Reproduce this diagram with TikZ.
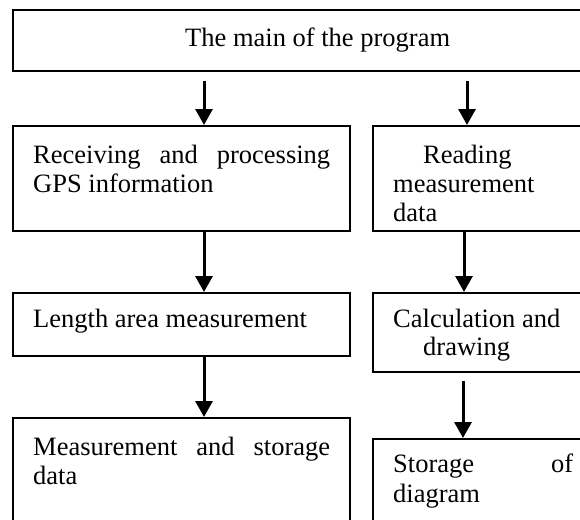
\documentclass[tikz,border=0pt]{standalone}
\usepackage{fontspec}
\setmainfont{Liberation Serif}
\usetikzlibrary{arrows.meta}
\tikzset{
  box/.style={draw, line width=2pt, inner sep=0pt, anchor=north west},
  txt/.style={anchor=base west, inner sep=0pt, font=\fontsize{26.5}{29}\selectfont},
  arr/.style={line width=3pt, -{Triangle[width=17pt,length=16pt]}},
}
\begin{document}
\begin{tikzpicture}[x=1pt,y=-1pt]
\useasboundingbox (0,0) rectangle (580,519);
\clip (0,0) rectangle (580,519);
% boxes
\node[box, minimum width=620pt, minimum height=61pt]  (top)  at (12,9)   {};
\node[box, minimum width=337pt, minimum height=105pt] (recv) at (12,125) {};
\node[box, minimum width=230pt, minimum height=105pt] (read) at (372,125) {};
\node[box, minimum width=337pt, minimum height=63pt]  (len)  at (12,292) {};
\node[box, minimum width=230pt, minimum height=79pt]  (calc) at (372,292) {};
\node[box, minimum width=337pt, minimum height=130pt] (meas) at (12,417) {};
\node[box, minimum width=230pt, minimum height=120pt] (stor) at (372,438) {};
% texts
\node[txt] (t0) at (185,47) {The main of the program};
\node[txt] (t1a) at (33,163) {\makebox[297pt][s]{Receiving and processing}};
\node[txt] (t1b) at (33,192) {GPS information};
\node[txt] (t2a) at (423,163) {Reading};
\node[txt] (t2b) at (393,192) {measurement};
\node[txt] (t2c) at (393,221) {data};
\node[txt] (t3) at (33,327) {Length area measurement};
\node[txt] (t4a) at (393,327) {Calculation and};
\node[txt] (t4b) at (423,355) {drawing};
\node[txt] (t5a) at (33,455) {\makebox[297pt][s]{Measurement and storage}};
\node[txt] (t5b) at (33,484) {data};
\node[txt] (t6a) at (393,472) {\makebox[180pt][s]{Storage of}};
\node[txt] (t6b) at (393,502) {diagram};
% arrow columns
\coordinate (cl)  at (204,0);
\coordinate (cr1) at (467,0);
\coordinate (cr2) at (464,0);
\coordinate (cr3) at (463,0);
% arrows
\draw[arr, shorten <=9pt] (top.south -| cl) -- (recv.north -| cl);
\draw[arr, shorten <=9pt] (top.south -| cr1) -- (read.north -| cr1);
\draw[arr] (recv.south -| cl) -- (len.north -| cl);
\draw[arr] (read.south -| cr2) -- (calc.north -| cr2);
\draw[arr] (len.south -| cl) -- (meas.north -| cl);
\draw[arr, shorten <=8pt] (calc.south -| cr3) -- (stor.north -| cr3);
\end{tikzpicture}
\end{document}
